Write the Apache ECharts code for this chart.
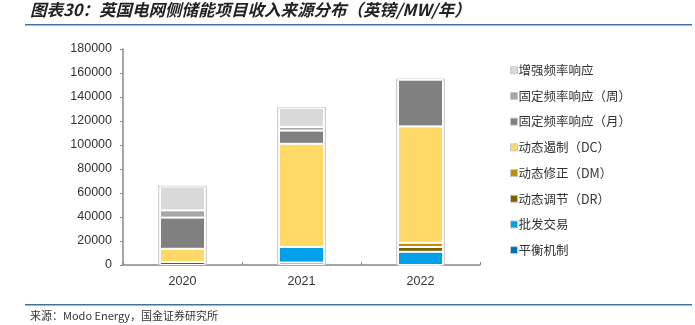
<!DOCTYPE html>
<html><head><meta charset="utf-8">
<script src="https://cdn.jsdelivr.net/npm/echarts@6/dist/echarts.min.js"></script>
<style>html,body{margin:0;padding:0;background:#fff}#c{width:695px;height:325px}</style>
</head><body><div id="c"></div>
<script>
const years = ['2020', '2021', '2022'];
const seriesNames = ['平衡机制', '批发交易', '动态调节（DR）', '动态修正（DM）', '动态遏制（DC）', '固定频率响应（月）', '固定频率响应（周）', '增强频率响应'];
const colors = ['#0070c0', '#00a0e9', '#7f6000', '#bf9000', '#ffd966', '#808080', '#a6a6a6', '#d9d9d9'];
const balancing = [2500, 2000, 0];
const wholesale = [0, 13000, 11000];
const dynReg = [0, 0, 4000];
const dynMod = [0, 0, 3500];
const dynCont = [11000, 86000, 97000];
const ffrMonthly = [26000, 11000, 39000];
const ffrWeekly = [6000, 3000, 0];
const enhancedFR = [20000, 16000, 0];
const frameTop = [66000, 131500, 155500];
const yTicks = [0, 20000, 40000, 60000, 80000, 100000, 120000, 140000, 160000, 180000];

const values = [balancing, wholesale, dynReg, dynMod, dynCont, ffrMonthly, ffrWeekly, enhancedFR];
const fontCN = '"Noto Sans CJK SC", "Noto Sans", sans-serif';

const chart = echarts.init(document.getElementById('c'), null, {renderer: 'canvas'});
const stackSeries = seriesNames.map((n, i) => ({
  name: n, type: 'bar', stack: 'total', barWidth: 45, xAxisIndex: 0,
  data: values[i], z: 3,
  itemStyle: {color: colors[i], borderColor: '#ffffff', borderWidth: 1}
}));
chart.setOption({
  animation: false,
  graphic: [
    {type: 'text', left: 30, top: 1, style: {text: '图表30：英国电网侧储能项目收入来源分布（英镑/MW/年）', font: 'italic bold 16.5px ' + fontCN, fill: '#222'}},
    {type: 'rect', shape: {x: 25, y: 24, width: 667, height: 1.5}, style: {fill: '#41719c'}},
    {type: 'rect', shape: {x: 25, y: 304, width: 667, height: 1.5}, style: {fill: '#41719c'}},
    {type: 'text', left: 30, top: 310, style: {text: '来源：Modo Energy，国金证券研究所', font: '11px ' + fontCN, fill: '#333'}}
  ],
  grid: {left: 123, right: 215, top: 49, bottom: 60},
  legend: {
    orient: 'vertical', left: 505, top: 59, itemGap: 13.2,
    itemWidth: 7, itemHeight: 7, icon: 'rect',
    data: seriesNames.slice().reverse(),
    itemStyle: {borderColor: '#c8c8c8', borderWidth: 1},
    textStyle: {fontFamily: fontCN, fontSize: 12.5, color: '#333', padding: [0, 0, 0, -4]}
  },
  xAxis: [{
    type: 'category', data: years,
    axisLine: {lineStyle: {color: '#888', width: 1.5}},
    axisTick: {show: true, inside: true, length: 3, lineStyle: {color: '#888'}},
    axisLabel: {color: '#333', fontSize: 12.5, fontFamily: 'Liberation Sans, Arial', margin: 10}
  }, {
    type: 'category', data: years, show: false
  }],
  yAxis: {
    type: 'value', min: 0, max: 180000, interval: 20000,
    splitLine: {show: false},
    axisLine: {show: true, lineStyle: {color: '#888', width: 1.5}},
    axisTick: {show: true, length: 3, lineStyle: {color: '#888'}},
    axisLabel: {color: '#333', fontSize: 12.5, fontFamily: 'Liberation Sans, Arial', margin: 11,
      formatter: v => yTicks.includes(v) ? String(v) : ''}
  },
  series: [{
    name: 'frame', type: 'bar', xAxisIndex: 1, barWidth: 49, data: frameTop, z: 1,
    itemStyle: {color: '#ffffff', borderColor: '#cfcfcf', borderWidth: 1.2},
    silent: true
  }].concat(stackSeries)
});
</script></body></html>
